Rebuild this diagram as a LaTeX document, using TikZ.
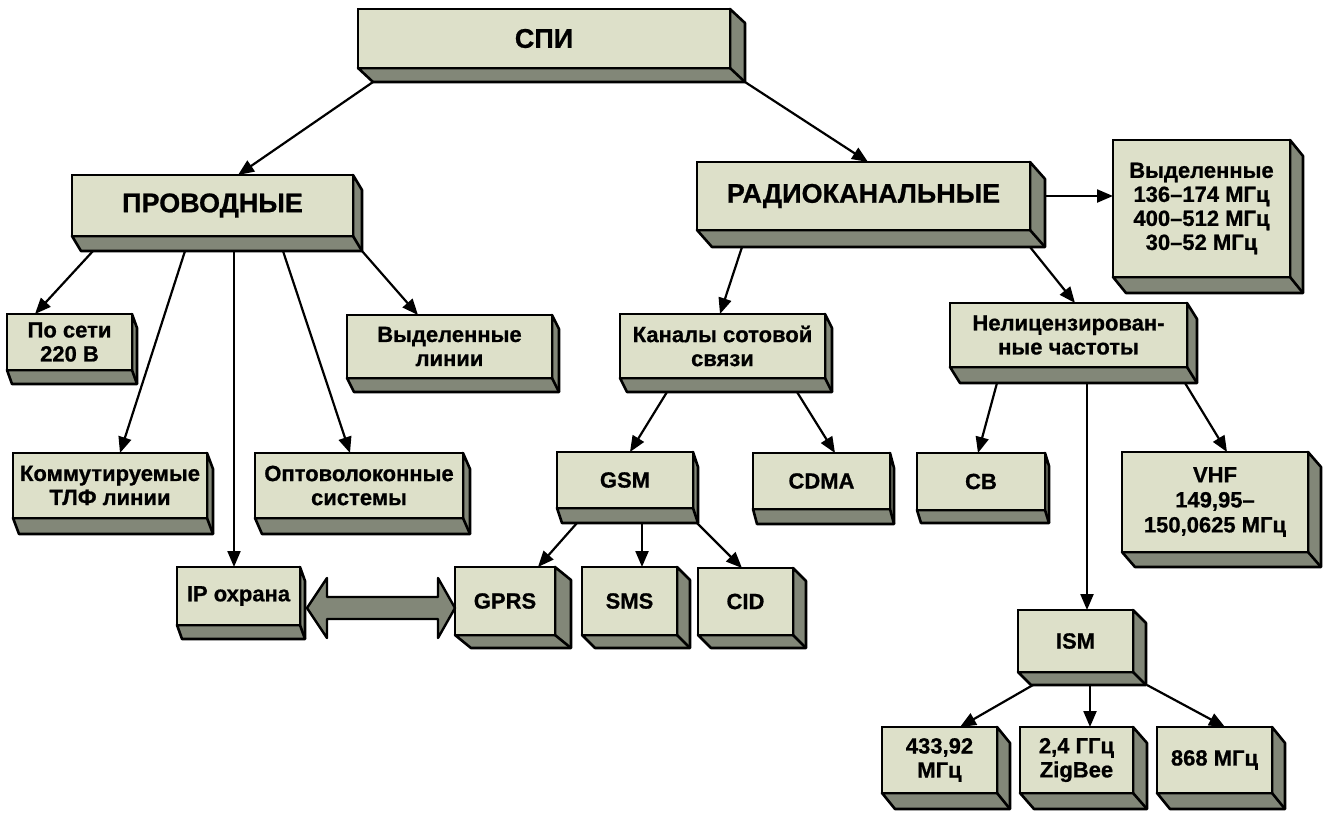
\documentclass[tikz,border=0pt]{standalone}
\usepackage{fontspec}
\setmainfont{Liberation Sans}[BoldFeatures={FakeBold=0.8}]
\usetikzlibrary{arrows.meta,calc}
\definecolor{facecol}{RGB}{221,224,201}
\definecolor{sidecol}{RGB}{130,135,120}
\tikzset{
  facebox/.style={draw=black, fill=facecol, line width=2.6pt, inner sep=0pt, outer sep=0pt,
    align=center, font=\bfseries\fontsize{22}{24}\selectfont},
  bigtext/.style={font=\bfseries\fontsize{27}{29}\selectfont},
  sidepart/.style={fill=sidecol, draw=black, line width=2.6pt, line join=round},
  arr/.style={-{Triangle[length=16pt,width=13pt]}, line width=2.2pt},
  dblarrow/.style={fill=sidecol, draw=black, line width=2.4pt, line join=round}
}
% name, x1, y1, x2, y2, dx, dy, extra style, text
\newcommand\tdbox[9]{%
  \draw[sidepart] (#2,#5) -- (#2+#6,#5+#7) -- (#4+#6,#5+#7) -- (#4+#6,#3+#7) -- (#4,#3) -- (#4,#5) -- cycle;
  \draw[line width=2.6pt] (#4,#5) -- (#4+#6,#5+#7);
  \node[facebox, #8, minimum width={#4-#2}, minimum height={#5-#3}] (#1) at ({(#2+#4)/2},{(#3+#5)/2}) {#9};
  \coordinate (#1-b) at (#2+#6,#5+#7);
}
\begin{document}
\begin{tikzpicture}[x=1pt,y=-1pt]
\useasboundingbox (0,0) rectangle (1336,815);

% boxes
\tdbox{spi}{358}{9}{730}{68}{15}{14}{bigtext}{СПИ}
\tdbox{prov}{72}{175}{353}{236}{9}{15}{bigtext}{ПРОВОДНЫЕ}
\tdbox{radio}{697}{162}{1030}{230}{15}{17}{bigtext}{РАДИОКАНАЛЬНЫЕ}
\tdbox{vydr}{1113}{140}{1290}{277}{13}{16}{}{Выделенные\\136–174 МГц\\400–512 МГц\\30–52 МГц}
\tdbox{posseti}{7}{314}{132}{370}{5}{14}{}{По сети\\220 В}
\tdbox{vydlin}{347}{315}{552}{378}{7}{14}{}{Выделенные\\линии}
\tdbox{komm}{13}{453}{207}{518}{6}{16}{}{Коммутируемые\\ТЛФ линии}
\tdbox{opto}{255}{453}{463}{518}{7}{16}{}{Оптоволоконные\\системы}
\tdbox{ip}{177}{567}{300}{625}{5}{14}{}{IP охрана}
\tdbox{kanaly}{620}{314}{825}{378}{7}{14}{}{Каналы сотовой\\связи}
\tdbox{nelic}{950}{303}{1187}{367}{10}{16}{}{Нелицензирован-\\ные частоты}
\tdbox{gsm}{557}{452}{693}{508}{5}{15}{}{GSM}
\tdbox{cdma}{753}{453}{890}{509}{4}{15}{}{CDMA}
\tdbox{gprs}{455}{567}{555}{635}{16}{13}{}{GPRS}
\tdbox{sms}{582}{567}{677}{635}{13}{13}{}{SMS}
\tdbox{cid}{698}{568}{793}{635}{13}{13}{}{CID}
\tdbox{cb}{917}{453}{1045}{510}{4}{13}{}{CB}
\tdbox{vhf}{1122}{452}{1308}{552}{13}{15}{font=\bfseries\fontsize{22}{25}\selectfont}{VHF\\149,95–\\150,0625 МГц}
\tdbox{ism}{1018}{610}{1133}{672}{13}{13}{}{ISM}
\tdbox{fa}{882}{727}{997}{793}{13}{16}{}{433,92\\МГц}
\tdbox{fb}{1020}{727}{1133}{793}{14}{16}{}{2,4 ГГц\\ZigBee}
\tdbox{fc}{1157}{727}{1272}{793}{13}{16}{}{868 МГц}

% connectors
\draw[arr] (spi-b) -- ([xshift=166]prov.north west);
\draw[arr] ([xshift=372]spi-b) -- ([xshift=171]radio.north west);

\draw[arr] ([xshift=12]prov-b) -- ([xshift=28]posseti.north west);
\draw[arr] ([xshift=104]prov-b) -- ([xshift=107]komm.north west);
\draw[arr] ([xshift=153]prov-b) -- ([xshift=57]ip.north west);
\draw[arr] ([xshift=202]prov-b) -- ([xshift=95]opto.north west);
\draw[arr] ([xshift=281]prov-b) -- ([xshift=71]vydlin.north west);

\draw[arr] ([xshift=30]radio-b) -- ([xshift=100]kanaly.north west);
\draw[arr] ([xshift=15]radio.east) -- ([yshift=12.5]vydr.west);
\draw[arr] ([xshift=318]radio-b) -- ([xshift=125]nelic.north west);

\draw[arr] ([xshift=40]kanaly-b) -- ([xshift=73]gsm.north west);
\draw[arr] ([xshift=170]kanaly-b) -- ([xshift=82]cdma.north west);

\draw[arr] ([xshift=15]gsm-b) -- ([xshift=83]gprs.north west);
\draw[arr] ([xshift=80]gsm-b) -- ([xshift=60]sms.north west);
\draw[arr] ([xshift=135]gsm-b) -- ([xshift=44]cid.north west);

\draw[arr] ([xshift=37]nelic-b) -- ([xshift=61]cb.north west);
\draw[arr] ([xshift=127]nelic-b) -- ([xshift=69]ism.north west);
\draw[arr] ([xshift=225]nelic-b) -- ([xshift=105]vhf.north west);

\draw[arr] ([xshift=2]ism-b) -- ([xshift=78]fa.north west);
\draw[arr] ([xshift=59]ism-b) -- ([xshift=70]fb.north west);
\draw[arr] ([xshift=116]ism-b) -- ([xshift=68]fc.north west);

% double arrow between IP and GPRS
\draw[dblarrow] (307,608) -- (327,578) -- (327,597) -- (438,597) -- (438,578) -- (455,608)
  -- (438,638) -- (438,619) -- (327,619) -- (327,638) -- cycle;
\end{tikzpicture}
\end{document}
